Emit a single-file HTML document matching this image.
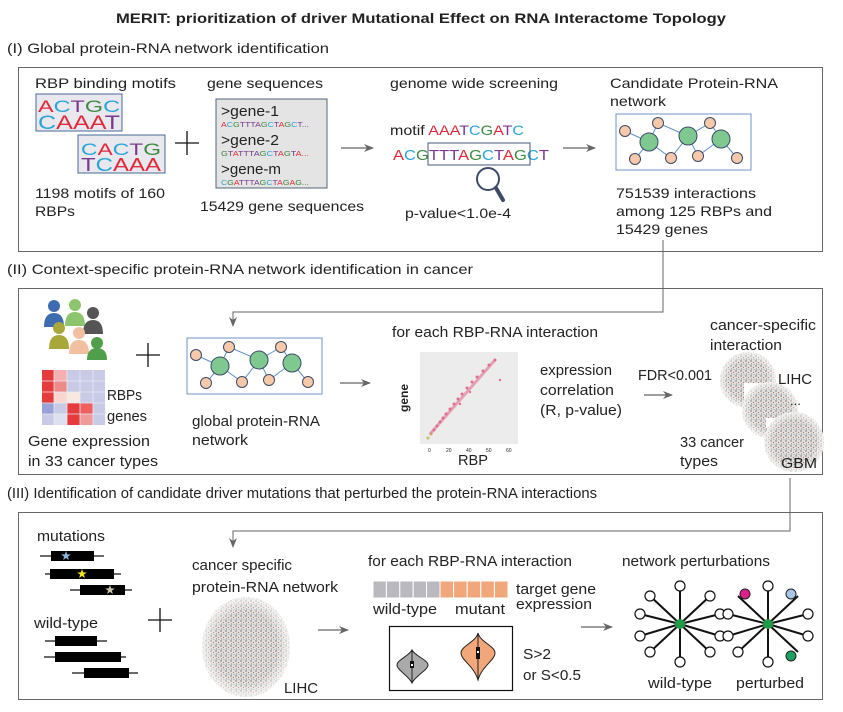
<!DOCTYPE html>
<html><head><meta charset="utf-8"><style>
html,body{margin:0;padding:0;background:#fff;width:843px;height:712px;overflow:hidden}
svg{display:block}
text{font-family:"Liberation Sans",Arial,sans-serif;fill:#222}
</style></head><body>
<svg width="843" height="712" viewBox="0 0 843 712" xmlns="http://www.w3.org/2000/svg" font-family="Liberation Sans, Arial, sans-serif">
<defs>
<pattern id="dots" width="5" height="5" patternUnits="userSpaceOnUse">
<rect width="5" height="5" fill="#e2dfdc"/>
<circle cx="1" cy="1" r="0.7" fill="#666"/><circle cx="3.5" cy="2.5" r="0.6" fill="#a77"/>
<circle cx="1.5" cy="4" r="0.6" fill="#888"/><circle cx="4" cy="4.5" r="0.5" fill="#79a"/>
</pattern>
<radialGradient id="fade"><stop offset="0.7" stop-color="#fff" stop-opacity="0"/><stop offset="1" stop-color="#fff" stop-opacity="0.7"/></radialGradient>
<path id="star" d="M0,-5 L1.2,-1.6 4.8,-1.5 1.9,0.6 2.9,4 0,2 -2.9,4 -1.9,0.6 -4.8,-1.5 -1.2,-1.6Z"/>
<g id="net">
<rect x="0" y="0" width="135" height="56" fill="#fff" stroke="#6f95c4" stroke-width="1"/>
<g stroke="#5b8fc9" stroke-width="1">
<line x1="33" y1="28" x2="9" y2="17"/><line x1="33" y1="28" x2="42" y2="9"/><line x1="33" y1="28" x2="19" y2="45"/><line x1="33" y1="28" x2="55" y2="44"/>
<line x1="72" y1="22" x2="42" y2="9"/><line x1="72" y1="22" x2="94" y2="9"/><line x1="72" y1="22" x2="55" y2="44"/><line x1="72" y1="22" x2="82" y2="42"/>
<line x1="105" y1="25" x2="94" y2="9"/><line x1="105" y1="25" x2="82" y2="42"/><line x1="105" y1="25" x2="121" y2="44"/>
</g>
<g fill="#f7c9a9" stroke="#3c4a68" stroke-width="1">
<circle cx="9" cy="17" r="5.5"/><circle cx="42" cy="9" r="5.5"/><circle cx="94" cy="9" r="5.5"/><circle cx="19" cy="45" r="5.5"/><circle cx="55" cy="44" r="5.5"/><circle cx="82" cy="42" r="5.5"/><circle cx="121" cy="44" r="5.5"/>
</g>
<g fill="#7fc88f" stroke="#3c4a68" stroke-width="1">
<circle cx="33" cy="28" r="9"/><circle cx="72" cy="22" r="9"/><circle cx="105" cy="25" r="9"/>
</g>
</g>
<marker id="ar" markerWidth="10" markerHeight="8" refX="9" refY="4" orient="auto" markerUnits="userSpaceOnUse"><path d="M0,0 L10,4 L0,8 L3,4z" fill="#666"/></marker>
<g id="spoke">
<g stroke="#111" stroke-width="2">
<line x1="0" y1="0" x2="0" y2="-38"/><line x1="0" y1="0" x2="0" y2="38"/>
<line x1="0" y1="0" x2="-30" y2="-28"/><line x1="0" y1="0" x2="30" y2="-28"/>
<line x1="0" y1="0" x2="-30" y2="28"/><line x1="0" y1="0" x2="30" y2="28"/>
<line x1="0" y1="0" x2="-40" y2="-10"/><line x1="0" y1="0" x2="40" y2="-10"/>
<line x1="0" y1="0" x2="-40" y2="12"/><line x1="0" y1="0" x2="40" y2="12"/>
</g>
</g>
</defs>

<text x="421" y="23" font-size="14" font-weight="bold" text-anchor="middle" textLength="610" lengthAdjust="spacingAndGlyphs">MERIT: prioritization of driver Mutational Effect on RNA Interactome Topology</text>
<text x="7" y="53" font-size="14" textLength="322" lengthAdjust="spacingAndGlyphs">(I) Global protein-RNA network identification</text>

<rect x="18.5" y="67.5" width="804" height="184" fill="none" stroke="#666" stroke-width="1"/>
<text x="35" y="88" font-size="14" textLength="141" lengthAdjust="spacingAndGlyphs">RBP binding  motifs</text>
<rect x="36" y="94" width="86" height="37" fill="#e8e8ee" stroke="#4a6a96"/>
<text x="38" y="112" font-size="17" textLength="82" lengthAdjust="spacingAndGlyphs"><tspan fill="#e02a3a">A</tspan><tspan fill="#2aa4d8">C</tspan><tspan fill="#7a3a8f">T</tspan><tspan fill="#3d8a3f">G</tspan><tspan fill="#2aa4d8">C</tspan></text>
<text x="38" y="129" font-size="19" textLength="82" lengthAdjust="spacingAndGlyphs"><tspan fill="#2aa4d8">C</tspan><tspan fill="#e02a3a">AAA</tspan><tspan fill="#7a3a8f">T</tspan></text>
<rect x="78" y="135" width="87" height="38" fill="#e8e8ee" stroke="#4a6a96"/>
<text x="81" y="155" font-size="17" textLength="80" lengthAdjust="spacingAndGlyphs"><tspan fill="#2aa4d8">C</tspan><tspan fill="#e02a3a">A</tspan><tspan fill="#2aa4d8">C</tspan><tspan fill="#7a3a8f">T</tspan><tspan fill="#3d8a3f">G</tspan></text>
<text x="81" y="171" font-size="18" textLength="80" lengthAdjust="spacingAndGlyphs"><tspan fill="#7a3a8f">T</tspan><tspan fill="#2aa4d8">C</tspan><tspan fill="#e02a3a">AAA</tspan></text>
<line x1="175" y1="143" x2="199" y2="143" stroke="#111" stroke-width="1.3"/><line x1="187" y1="131" x2="187" y2="155" stroke="#111" stroke-width="1.3"/>
<text x="35" y="198" font-size="14" textLength="130" lengthAdjust="spacingAndGlyphs">1198 motifs of 160</text>
<text x="35" y="216" font-size="14" textLength="40" lengthAdjust="spacingAndGlyphs">RBPs</text>

<text x="207" y="88" font-size="14" textLength="116" lengthAdjust="spacingAndGlyphs">gene sequences</text>
<rect x="216" y="99" width="111" height="89" fill="#e4e4e4" stroke="#55657a"/>
<text x="221" y="116" font-size="15" textLength="58" lengthAdjust="spacingAndGlyphs">&gt;gene-1</text>
<text x="221" y="127" font-size="7" textLength="88" lengthAdjust="spacingAndGlyphs"><tspan fill="#e02a3a">A</tspan><tspan fill="#2aa4d8">C</tspan><tspan fill="#3d8a3f">G</tspan><tspan fill="#7a3a8f">TTTA</tspan><tspan fill="#3d8a3f">G</tspan><tspan fill="#2aa4d8">C</tspan><tspan fill="#7a3a8f">T</tspan><tspan fill="#e02a3a">A</tspan><tspan fill="#3d8a3f">G</tspan><tspan fill="#2aa4d8">C</tspan><tspan fill="#7a3a8f">T...</tspan></text>
<text x="221" y="145" font-size="15" textLength="58" lengthAdjust="spacingAndGlyphs">&gt;gene-2</text>
<text x="221" y="156" font-size="7" textLength="88" lengthAdjust="spacingAndGlyphs"><tspan fill="#3d8a3f">G</tspan><tspan fill="#7a3a8f">T</tspan><tspan fill="#e02a3a">A</tspan><tspan fill="#7a3a8f">TTTA</tspan><tspan fill="#3d8a3f">G</tspan><tspan fill="#2aa4d8">C</tspan><tspan fill="#7a3a8f">T</tspan><tspan fill="#e02a3a">A</tspan><tspan fill="#3d8a3f">G</tspan><tspan fill="#7a3a8f">T</tspan><tspan fill="#e02a3a">A...</tspan></text>
<text x="221" y="174" font-size="15" textLength="60" lengthAdjust="spacingAndGlyphs">&gt;gene-m</text>
<text x="221" y="185" font-size="7" textLength="88" lengthAdjust="spacingAndGlyphs"><tspan fill="#2aa4d8">C</tspan><tspan fill="#3d8a3f">G</tspan><tspan fill="#e02a3a">A</tspan><tspan fill="#7a3a8f">TTTA</tspan><tspan fill="#3d8a3f">G</tspan><tspan fill="#2aa4d8">C</tspan><tspan fill="#7a3a8f">T</tspan><tspan fill="#e02a3a">A</tspan><tspan fill="#3d8a3f">G</tspan><tspan fill="#e02a3a">A</tspan><tspan fill="#3d8a3f">G...</tspan></text>
<text x="200" y="211" font-size="14" textLength="164" lengthAdjust="spacingAndGlyphs">15429 gene sequences</text>

<line x1="341" y1="148" x2="373" y2="148" stroke="#666" stroke-width="1.2" marker-end="url(#ar)"/>

<text x="390" y="88" font-size="14" textLength="168" lengthAdjust="spacingAndGlyphs">genome wide screening</text>
<text x="390" y="135" font-size="14" textLength="134" lengthAdjust="spacingAndGlyphs">motif <tspan fill="#e02a3a">AAA</tspan><tspan fill="#7a3a8f">T</tspan><tspan fill="#2aa4d8">C</tspan><tspan fill="#3d8a3f">G</tspan><tspan fill="#e02a3a">A</tspan><tspan fill="#7a3a8f">T</tspan><tspan fill="#2aa4d8">C</tspan></text>
<text x="393" y="160" font-size="15" textLength="156" lengthAdjust="spacingAndGlyphs"><tspan fill="#e02a3a">A</tspan><tspan fill="#2aa4d8">C</tspan><tspan fill="#3d8a3f">G</tspan><tspan fill="#7a3a8f">TTT</tspan><tspan fill="#e02a3a">A</tspan><tspan fill="#3d8a3f">G</tspan><tspan fill="#2aa4d8">C</tspan><tspan fill="#7a3a8f">T</tspan><tspan fill="#e02a3a">A</tspan><tspan fill="#3d8a3f">G</tspan><tspan fill="#2aa4d8">C</tspan><tspan fill="#7a3a8f">T</tspan></text>
<rect x="428" y="143" width="102" height="22" fill="none" stroke="#445a7a" stroke-width="1"/>
<circle cx="488" cy="179" r="11" fill="#fff" stroke="#3c4a68" stroke-width="2"/>
<line x1="496" y1="188" x2="503" y2="200" stroke="#3c4a68" stroke-width="4" stroke-linecap="round"/>
<text x="405" y="218" font-size="14" textLength="106" lengthAdjust="spacingAndGlyphs">p-value&lt;1.0e-4</text>

<line x1="563" y1="148" x2="595" y2="148" stroke="#666" stroke-width="1.2" marker-end="url(#ar)"/>

<text x="610" y="88" font-size="14" textLength="168" lengthAdjust="spacingAndGlyphs">Candidate Protein-RNA</text>
<text x="610" y="106" font-size="14" textLength="56" lengthAdjust="spacingAndGlyphs">network</text>
<use href="#net" x="616" y="114"/>
<text x="616" y="198" font-size="14" textLength="140" lengthAdjust="spacingAndGlyphs">751539 interactions</text>
<text x="616" y="216" font-size="14" textLength="156" lengthAdjust="spacingAndGlyphs">among 125 RBPs and</text>
<text x="616" y="234" font-size="14" textLength="92" lengthAdjust="spacingAndGlyphs">15429 genes</text>

<polyline points="663,240 663,312 233,312 233,326" fill="none" stroke="#666" stroke-width="1" marker-end="url(#ar)"/>

<text x="7" y="274" font-size="14" textLength="466" lengthAdjust="spacingAndGlyphs">(II) Context-specific protein-RNA network identification in cancer</text>

<rect x="18.5" y="288.5" width="804" height="186" fill="none" stroke="#666" stroke-width="1"/>
<g>
<circle cx="54" cy="306" r="6" fill="#3f6cb0"/><path d="M44,327 q0,-14 10,-14 q10,0 10,14z" fill="#3f6cb0"/>
<circle cx="75" cy="305" r="6" fill="#8cc56d"/><path d="M65,326 q0,-14 10,-14 q10,0 10,14z" fill="#8cc56d"/>
<circle cx="93" cy="313" r="6" fill="#555"/><path d="M83,334 q0,-14 10,-14 q10,0 10,14z" fill="#555"/>
<circle cx="59" cy="328" r="6" fill="#a8a83a"/><path d="M49,349 q0,-14 10,-14 q10,0 10,14z" fill="#a8a83a"/>
<circle cx="79" cy="333" r="6" fill="#f2c0a0"/><path d="M69,354 q0,-14 10,-14 q10,0 10,14z" fill="#f2c0a0"/>
<circle cx="97" cy="343" r="6" fill="#4f9f4a"/><path d="M87,360 q0,-12 10,-12 q10,0 10,12z" fill="#4f9f4a"/>
</g>
<g>
<rect x="42" y="370" width="63" height="55" fill="#c9cbe6"/>
<rect x="42" y="370" width="12" height="33" fill="#e53b3b"/>
<rect x="54" y="370" width="13" height="11" fill="#f5b0b0"/><rect x="54" y="381" width="13" height="11" fill="#ef8a8a"/><rect x="54" y="392" width="13" height="11" fill="#f9d7d0"/>
<rect x="67" y="392" width="13" height="11" fill="#f9e8e0"/><rect x="67" y="403" width="13" height="22" fill="#e53b3b"/>
<rect x="80" y="403" width="13" height="11" fill="#f06060"/><rect x="80" y="414" width="13" height="11" fill="#f09a9a"/>
<rect x="42" y="403" width="12" height="11" fill="#9aa0d8"/><rect x="54" y="414" width="13" height="11" fill="#dde0f0"/>
<g stroke="#e8e8f4" stroke-width="0.8"><line x1="54" y1="370" x2="54" y2="425"/><line x1="67" y1="370" x2="67" y2="425"/><line x1="80" y1="370" x2="80" y2="425"/><line x1="93" y1="370" x2="93" y2="425"/><line x1="42" y1="381" x2="105" y2="381"/><line x1="42" y1="392" x2="105" y2="392"/><line x1="42" y1="403" x2="105" y2="403"/><line x1="42" y1="414" x2="105" y2="414"/></g>
</g>
<text x="107" y="400" font-size="15" textLength="35" lengthAdjust="spacingAndGlyphs">RBPs</text>
<text x="107" y="421" font-size="15" textLength="40" lengthAdjust="spacingAndGlyphs">genes</text>
<text x="28" y="446" font-size="15" textLength="122" lengthAdjust="spacingAndGlyphs">Gene expression</text>
<text x="28" y="466" font-size="15" textLength="130" lengthAdjust="spacingAndGlyphs">in 33 cancer types</text>
<line x1="136" y1="355" x2="160" y2="355" stroke="#111" stroke-width="1.3"/><line x1="148" y1="343" x2="148" y2="367" stroke="#111" stroke-width="1.3"/>
<use href="#net" x="187" y="338"/>
<text x="192" y="426" font-size="15" textLength="128" lengthAdjust="spacingAndGlyphs">global protein-RNA</text>
<text x="192" y="445" font-size="15" textLength="56" lengthAdjust="spacingAndGlyphs">network</text>
<line x1="340" y1="383" x2="370" y2="383" stroke="#666" stroke-width="1.2" marker-end="url(#ar)"/>
<text x="392" y="337" font-size="15" textLength="206" lengthAdjust="spacingAndGlyphs">for each RBP-RNA interaction</text>
<rect x="420" y="352" width="98" height="92" fill="#ececec"/>
<text x="408" y="398" font-size="12" font-weight="bold" transform="rotate(-90 408 398)" text-anchor="middle">gene</text>
<g font-size="5" fill="#666"><text x="428" y="452">0</text><text x="446" y="452">20</text><text x="466" y="452">40</text><text x="486" y="452">50</text><text x="506" y="452">60</text></g>
<g fill="#e0507a" opacity="0.8">
<circle cx="428" cy="438" r="1.6" fill="#b6c24a"/><circle cx="431" cy="434" r="1.6" fill="#c8b04a"/>
<circle cx="434" cy="430" r="1.5"/><circle cx="437" cy="426" r="1.5"/><circle cx="440" cy="422" r="1.5"/><circle cx="443" cy="418" r="1.5"/><circle cx="446" cy="414" r="1.5"/><circle cx="450" cy="409" r="1.5"/><circle cx="454" cy="404" r="1.5"/><circle cx="458" cy="399" r="1.5"/><circle cx="462" cy="394" r="1.5"/><circle cx="467" cy="388" r="1.5"/><circle cx="472" cy="382" r="1.5"/><circle cx="477" cy="377" r="1.5"/><circle cx="483" cy="371" r="1.5"/><circle cx="489" cy="365" r="1.5"/><circle cx="495" cy="360" r="1.5"/><circle cx="470" cy="392" r="1.2"/><circle cx="460" cy="404" r="1.2"/><circle cx="500" cy="380" r="1.2"/>
</g>
<polyline points="430,434 495,360" stroke="#e07090" stroke-width="3" opacity="0.6"/>
<text x="458" y="465" font-size="15" textLength="30" lengthAdjust="spacingAndGlyphs">RBP</text>
<text x="540" y="375" font-size="15" textLength="72" lengthAdjust="spacingAndGlyphs">expression</text>
<text x="540" y="395" font-size="15" textLength="74" lengthAdjust="spacingAndGlyphs">correlation</text>
<text x="540" y="415" font-size="15" textLength="82" lengthAdjust="spacingAndGlyphs">(R, p-value)</text>
<text x="638" y="380" font-size="15" textLength="74" lengthAdjust="spacingAndGlyphs">FDR&lt;0.001</text>
<line x1="644" y1="395" x2="672" y2="395" stroke="#666" stroke-width="1.2" marker-end="url(#ar)"/>
<text x="710" y="330" font-size="15" textLength="106" lengthAdjust="spacingAndGlyphs">cancer-specific</text>
<text x="710" y="350" font-size="15" textLength="72" lengthAdjust="spacingAndGlyphs">interaction</text>
<circle cx="748" cy="380" r="28" fill="url(#dots)"/><circle cx="748" cy="380" r="28" fill="url(#fade)"/>
<rect x="744" y="383" width="56" height="30" fill="#fff"/>
<circle cx="770" cy="410" r="28" fill="url(#dots)"/><circle cx="770" cy="410" r="28" fill="url(#fade)"/>
<rect x="766" y="418" width="30" height="10" fill="#fff"/>
<circle cx="794" cy="442" r="30" fill="url(#dots)"/><circle cx="794" cy="442" r="30" fill="url(#fade)"/>
<text x="778" y="384" font-size="15" textLength="34" lengthAdjust="spacingAndGlyphs">LIHC</text>
<text x="790" y="405" font-size="13">...</text>
<text x="781" y="468" font-size="15" textLength="36" lengthAdjust="spacingAndGlyphs">GBM</text>
<text x="680" y="447" font-size="15" textLength="64" lengthAdjust="spacingAndGlyphs">33 cancer</text>
<text x="680" y="466" font-size="15" textLength="38" lengthAdjust="spacingAndGlyphs">types</text>

<polyline points="790,478 790,531 233,531 233,547" fill="none" stroke="#666" stroke-width="1" marker-end="url(#ar)"/>

<text x="7" y="498" font-size="15" textLength="590" lengthAdjust="spacingAndGlyphs">(III) Identification of candidate driver mutations that perturbed the protein-RNA interactions</text>

<rect x="18.5" y="512.5" width="804" height="187" fill="none" stroke="#666" stroke-width="1"/>
<text x="37" y="541" font-size="15" textLength="68" lengthAdjust="spacingAndGlyphs">mutations</text>
<g stroke="#111" stroke-width="1.2">
<line x1="40" y1="556" x2="104" y2="556"/><line x1="45" y1="574" x2="121" y2="574"/><line x1="70" y1="590" x2="132" y2="590"/>
<line x1="45" y1="641" x2="107" y2="641"/><line x1="44" y1="657" x2="126" y2="657"/><line x1="72" y1="673" x2="138" y2="673"/>
</g>
<g fill="#000">
<rect x="51" y="551" width="43" height="10"/><rect x="50" y="569" width="64" height="10"/><rect x="80" y="585" width="45" height="10"/>
<rect x="55" y="636" width="42" height="10"/><rect x="55" y="652" width="66" height="10"/><rect x="84" y="668" width="45" height="10"/>
</g>
<use href="#star" x="66" y="556" fill="#8fb4dc"/>
<use href="#star" x="82" y="574" fill="#f0e020"/>
<use href="#star" x="110" y="590" fill="#c8c4a8"/>
<text x="34" y="628" font-size="15" textLength="64" lengthAdjust="spacingAndGlyphs">wild-type</text>
<line x1="148" y1="620" x2="172" y2="620" stroke="#111" stroke-width="1.3"/><line x1="160" y1="608" x2="160" y2="632" stroke="#111" stroke-width="1.3"/>
<text x="192" y="570" font-size="15" textLength="100" lengthAdjust="spacingAndGlyphs">cancer specific</text>
<text x="192" y="592" font-size="15" textLength="146" lengthAdjust="spacingAndGlyphs">protein-RNA network</text>
<ellipse cx="246" cy="647" rx="44" ry="50" fill="url(#dots)"/><ellipse cx="246" cy="647" rx="44" ry="50" fill="url(#fade)"/>
<text x="284" y="693" font-size="15" textLength="34" lengthAdjust="spacingAndGlyphs">LIHC</text>
<line x1="318" y1="630" x2="348" y2="630" stroke="#666" stroke-width="1.2" marker-end="url(#ar)"/>
<text x="368" y="566" font-size="15" textLength="204" lengthAdjust="spacingAndGlyphs">for each RBP-RNA interaction</text>
<g fill="#b9b9bf" stroke="#fff" stroke-width="1">
<rect x="373" y="581" width="13.4" height="17"/><rect x="386.4" y="581" width="13.4" height="17"/><rect x="399.8" y="581" width="13.4" height="17"/><rect x="413.2" y="581" width="13.4" height="17"/><rect x="426.6" y="581" width="13.4" height="17"/>
</g>
<g fill="#f2a77b" stroke="#fff" stroke-width="1">
<rect x="440" y="581" width="13.6" height="17"/><rect x="453.6" y="581" width="13.6" height="17"/><rect x="467.2" y="581" width="13.6" height="17"/><rect x="480.8" y="581" width="13.6" height="17"/><rect x="494.4" y="581" width="13.6" height="17"/>
</g>
<text x="516" y="594" font-size="15" textLength="80" lengthAdjust="spacingAndGlyphs">target gene</text>
<text x="516" y="609" font-size="15" textLength="76" lengthAdjust="spacingAndGlyphs">expression</text>
<text x="373" y="614" font-size="15" textLength="64" lengthAdjust="spacingAndGlyphs">wild-type</text>
<text x="455" y="614" font-size="15" textLength="50" lengthAdjust="spacingAndGlyphs">mutant</text>
<rect x="389.5" y="626.5" width="123" height="64" fill="#fff" stroke="#111" stroke-width="1.2"/>
<path d="M412,650 C415,656 428,660 428,665 C428,670 415,676 412,683 C409,676 397,670 397,665 C397,660 409,656 412,650z" fill="#aaa" stroke="#222"/>
<line x1="412" y1="650" x2="412" y2="683" stroke="#222"/><rect x="410" y="661" width="4" height="7" fill="#111"/><rect x="411" y="664" width="2" height="2" fill="#fff"/>
<path d="M478,633 C480,642 495,646 495,653 C495,660 482,666 478,680 C474,666 461,660 461,653 C461,646 476,642 478,633z" fill="#f2a77b" stroke="#222"/>
<line x1="478" y1="633" x2="478" y2="680" stroke="#222"/><rect x="476" y="647" width="4" height="12" fill="#111"/><rect x="477" y="651" width="2" height="2" fill="#fff"/>
<text x="523" y="659" font-size="15" textLength="28" lengthAdjust="spacingAndGlyphs">S&gt;2</text>
<text x="523" y="680" font-size="15" textLength="58" lengthAdjust="spacingAndGlyphs">or S&lt;0.5</text>
<line x1="581" y1="627" x2="612" y2="627" stroke="#666" stroke-width="1.2" marker-end="url(#ar)"/>
<text x="622" y="566" font-size="15" textLength="148" lengthAdjust="spacingAndGlyphs">network perturbations</text>
<use href="#spoke" x="680" y="624"/>
<use href="#spoke" x="768" y="624"/>
<g fill="#fff" stroke="#111" stroke-width="1.2">
<circle cx="680" cy="586" r="5"/><circle cx="680" cy="662" r="5"/><circle cx="650" cy="596" r="5"/><circle cx="710" cy="596" r="5"/><circle cx="650" cy="652" r="5"/><circle cx="710" cy="652" r="5"/><circle cx="640" cy="614" r="5"/><circle cx="720" cy="614" r="5"/><circle cx="640" cy="636" r="5"/><circle cx="720" cy="636" r="5"/>
<circle cx="768" cy="586" r="5"/><circle cx="768" cy="662" r="5"/><circle cx="738" cy="652" r="5"/><circle cx="728" cy="614" r="5"/><circle cx="808" cy="614" r="5"/><circle cx="728" cy="636" r="5"/><circle cx="808" cy="636" r="5"/>
</g>
<circle cx="680" cy="624" r="5" fill="#1f9a4a"/><circle cx="768" cy="624" r="5" fill="#1f9a4a"/>
<circle cx="745" cy="594" r="5" fill="#e0208a" stroke="#222"/><circle cx="791" cy="594" r="5" fill="#a8c6e8" stroke="#222"/><circle cx="791" cy="656" r="5" fill="#1aa060" stroke="#222"/>
<text x="648" y="688" font-size="15" textLength="64" lengthAdjust="spacingAndGlyphs">wild-type</text>
<text x="736" y="688" font-size="15" textLength="68" lengthAdjust="spacingAndGlyphs">perturbed</text>
</svg>
</body></html>
